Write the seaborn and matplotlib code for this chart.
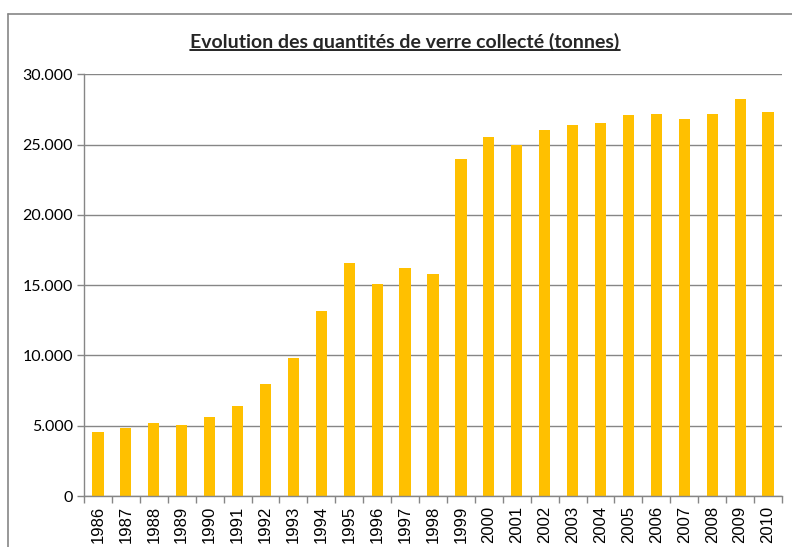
import matplotlib
matplotlib.use("Agg")
import matplotlib.pyplot as plt
from matplotlib.lines import Line2D
from matplotlib.ticker import FuncFormatter, MultipleLocator, FixedLocator
import pandas as pd
import seaborn as sns

years = [str(y) for y in range(1986, 2011)]
tonnes = [4580, 4810, 5170, 5030, 5620, 6400, 7970, 9820, 13160, 16550,
          15060, 16240, 15770, 23970, 25530, 24940, 26010, 26370, 26510,
          27100, 27170, 26790, 27170, 28240, 27310]

TITLE = "Evolution des quantités de verre collecté (tonnes)"
BAR_COLOR = "#FFC000"
GRID_COLOR = "#868686"

sns.set_style("white")
plt.rcParams["font.family"] = ["Liberation Sans", "DejaVu Sans"]

df = pd.DataFrame({"year": years, "tonnes": tonnes})

W, H = 792, 547
fig = plt.figure(figsize=(W / 100, H / 100), dpi=100)
left, right, top, bottom = 84, 782, 74.3, 496
ax = fig.add_axes([left / W, 1 - bottom / H, (right - left) / W, (bottom - top) / H])

sns.barplot(data=df, x="year", y="tonnes", color=BAR_COLOR, saturation=1,
            width=0.4, edgecolor="none", ax=ax)

ax.set_xlim(-0.5, len(years) - 0.5)
ax.set_ylim(0, 30000)
ax.yaxis.set_major_locator(MultipleLocator(5000))
ax.yaxis.set_major_formatter(FuncFormatter(lambda v, p: f"{int(v):,}".replace(",", ".")))
ax.grid(axis="y", color=GRID_COLOR, linewidth=1)
ax.set_axisbelow(True)
ax.set_xlabel("")
ax.set_ylabel("")

for side in ["top", "right"]:
    ax.spines[side].set_visible(False)
for side in ["left", "bottom"]:
    ax.spines[side].set_color(GRID_COLOR)
    ax.spines[side].set_linewidth(1)

# Excel-style tick marks between categories
ax.xaxis.set_minor_locator(FixedLocator([i - 0.5 for i in range(len(years) + 1)]))
ax.tick_params(axis="x", which="major", length=0, pad=7, labelsize=12,
               labelrotation=90, colors="black")
ax.tick_params(axis="x", which="minor", length=5, width=1, color=GRID_COLOR,
               direction="out", bottom=True)
ax.tick_params(axis="y", length=5, width=1, color=GRID_COLOR, left=True,
               labelsize=11.5, pad=3, labelcolor="black")
for lab in ax.get_yticklabels():
    lab.set_fontfamily(["Lato", "DejaVu Sans"])

# Title with underline
title = fig.text(405 / W, 1 - 42 / H, TITLE, ha="center", va="center",
                 fontsize=14, fontweight="bold", family=["Lato", "DejaVu Sans"])
fig.canvas.draw()
bb = title.get_window_extent().transformed(fig.transFigure.inverted())
fig.add_artist(Line2D([bb.x0, bb.x1], [bb.y0 + 0.002, bb.y0 + 0.002],
                      transform=fig.transFigure, color="black", linewidth=1.2))

# Chart-area border
fig.add_artist(Line2D([7.5 / W, 7.5 / W], [0, 1 - 13.5 / H],
                      transform=fig.transFigure, color=GRID_COLOR, linewidth=1.2))
fig.add_artist(Line2D([7.5 / W, 1], [1 - 13.5 / H, 1 - 13.5 / H],
                      transform=fig.transFigure, color=GRID_COLOR, linewidth=1.2))

fig.savefig("out.png", dpi=100)
